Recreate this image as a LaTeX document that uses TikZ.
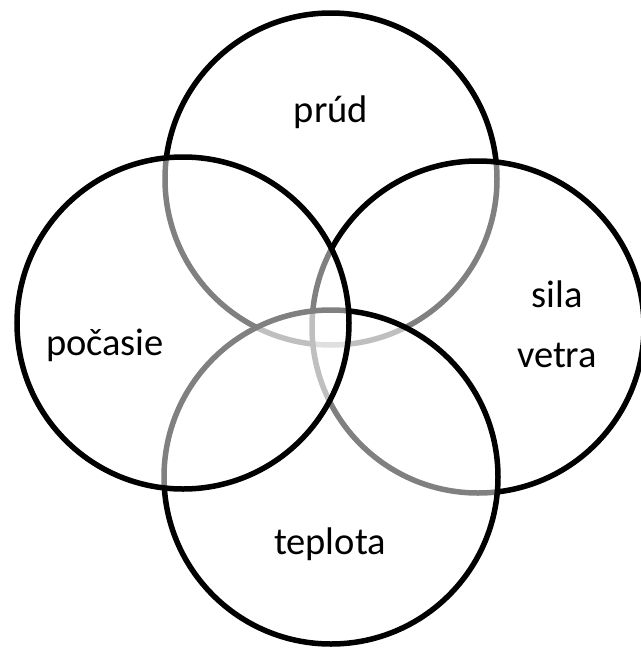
\documentclass[tikz,border=0pt]{standalone}
\usepackage{fontspec}
\setmainfont{Carlito}
\begin{document}
\begin{tikzpicture}[x=1pt,y=-1pt,
  venn/.style={draw=black,line width=5.5pt,fill=white,fill opacity=0.5},
  lbl/.style={font=\fontsize{38.5}{46}\selectfont,anchor=base,inner sep=0pt,text=black}]
\useasboundingbox (0,0) rectangle (640,648);
\draw[venn] (331,179) circle[radius=166];
\draw[venn] (478,327) circle[radius=166];
\draw[venn] (331,477) circle[radius=167];
\draw[venn] (183,323) circle[radius=166];
\node[lbl] (prud) at (331,122) {prúd};
\node[lbl] (pocasie) at (105,355) {počasie};
\node[lbl] (sila) at (557,307) {sila};
\node[lbl] (vetra) at (557,367) {vetra};
\node[lbl] (teplota) at (330,554) {teplota};
\end{tikzpicture}
\end{document}
